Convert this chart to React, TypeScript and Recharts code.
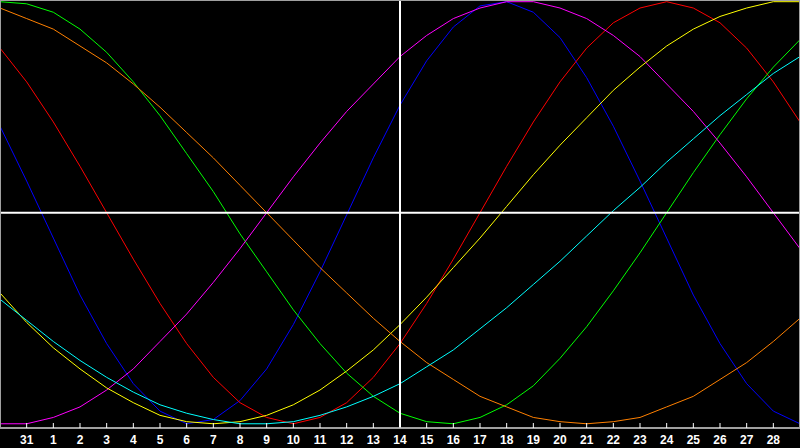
import { LineChart, Line, XAxis, YAxis, ReferenceLine } from 'recharts'

// day labels under ticks 1..29 (tick 0 and 30 are the plot edges)
const TICK_LABELS = ['31', '1', '2', '3', '4', '5', '6', '7', '8', '9', '10', '11', '12', '13', '14',
  '15', '16', '17', '18', '19', '20', '21', '22', '23', '24', '25', '26', '27', '28']
const TICKS = TICK_LABELS.map((_, i) => i + 1)

// one value per day column, -100..100
const BLUE = [41, 15, -12, -39, -62, -81, -94, -100, -98, -89, -74, -53, -28, -1, 26, 51, 72, 88, 98, 100, 95, 83, 64, 41, 15, -12, -39, -62, -81, -94, -100]
const RED = [78, 62, 43, 22, 0, -22, -43, -62, -78, -90, -97, -100, -97, -90, -78, -62, -43, -22, 0, 22, 43, 62, 78, 90, 97, 100, 97, 90, 78, 62, 43]
const GREEN = [100, 99, 95, 87, 76, 62, 46, 28, 10, -10, -28, -46, -62, -76, -87, -95, -99, -100, -97, -91, -82, -69, -54, -37, -19, 0, 19, 37, 54, 69, 82]
const MAGENTA = [-100, -100, -97, -92, -84, -74, -61, -48, -33, -17, 0, 17, 33, 48, 61, 74, 84, 92, 97, 100, 100, 97, 92, 84, 74, 61, 48, 33, 17, 0, -17]
const YELLOW = [-38, -52, -64, -74, -83, -90, -96, -99, -100, -99, -96, -91, -84, -75, -65, -53, -40, -26, -12, 3, 18, 32, 45, 58, 69, 79, 87, 93, 97, 100, 100]
const ORANGE = [97, 92, 87, 79, 71, 61, 50, 38, 26, 13, 0, -13, -26, -38, -50, -61, -71, -79, -87, -92, -97, -99, -100, -99, -97, -92, -87, -79, -71, -61, -50]
const CYAN = [-41, -51, -61, -70, -78, -85, -91, -95, -98, -100, -100, -99, -96, -92, -87, -81, -73, -65, -55, -45, -34, -23, -11, 1, 12, 24, 35, 46, 56, 66, 74]

const SERIES = [
  { key: 'blue', values: BLUE, color: '#0000ff' },
  { key: 'red', values: RED, color: '#ff0000' },
  { key: 'green', values: GREEN, color: '#00ff00' },
  { key: 'magenta', values: MAGENTA, color: '#ff00ff' },
  { key: 'yellow', values: YELLOW, color: '#ffff00' },
  { key: 'orange', values: ORANGE, color: '#ff8000' },
  { key: 'cyan', values: CYAN, color: '#00ffff' },
]

const data = BLUE.map((_, k) => {
  const row: any = { k }
  SERIES.forEach(s => { row[s.key] = s.values[k] })
  return row
})

const AXIS_Y = 428

const DayTick = (props: any) => {
  const { x, payload } = props
  return (
    <g>
      <line x1={x} x2={x} y1={AXIS_Y - 5} y2={AXIS_Y} stroke="#ffffff" strokeWidth={1} />
      <text x={x} y={AXIS_Y + 16} textAnchor="middle" fill="#ffffff"
        fontFamily="'Liberation Sans', Arial, sans-serif" fontWeight="bold" fontSize={12}>
        {TICK_LABELS[payload.value - 1]}
      </text>
    </g>
  )
}

export default function App() {
  return (
    <div style={{ position: 'relative', width: 800, height: 448, background: '#000' }}>
      <style>{`body{margin:0;background:#000}`}</style>
      <LineChart width={800} height={448} data={data} margin={{ top: 0, right: 0, left: 0, bottom: 0 }}>
        <XAxis dataKey="k" type="number" domain={[0, 30]} ticks={TICKS} interval={0} height={20}
          axisLine={{ stroke: '#a0a0a0', strokeWidth: 2 }} tickLine={false} tick={<DayTick />} />
        <YAxis hide domain={[-102, 100.8]} allowDataOverflow />
        {SERIES.map(s => (
          <Line key={s.key} type="linear" dataKey={s.key} stroke={s.color} strokeWidth={1}
            dot={false} activeDot={false} isAnimationActive={false} />
        ))}
        <ReferenceLine x={15} stroke="#ffffff" strokeWidth={2} />
        <ReferenceLine y={0} stroke="#ffffff" strokeWidth={2} />
      </LineChart>
      <div style={{
        position: 'absolute', left: 0, top: 0, width: 800, height: 428, boxSizing: 'border-box',
        borderTop: '1px solid #a0a0a0', borderLeft: '1px solid #a0a0a0', borderRight: '1px solid #a0a0a0',
        pointerEvents: 'none',
      }} />
    </div>
  )
}
